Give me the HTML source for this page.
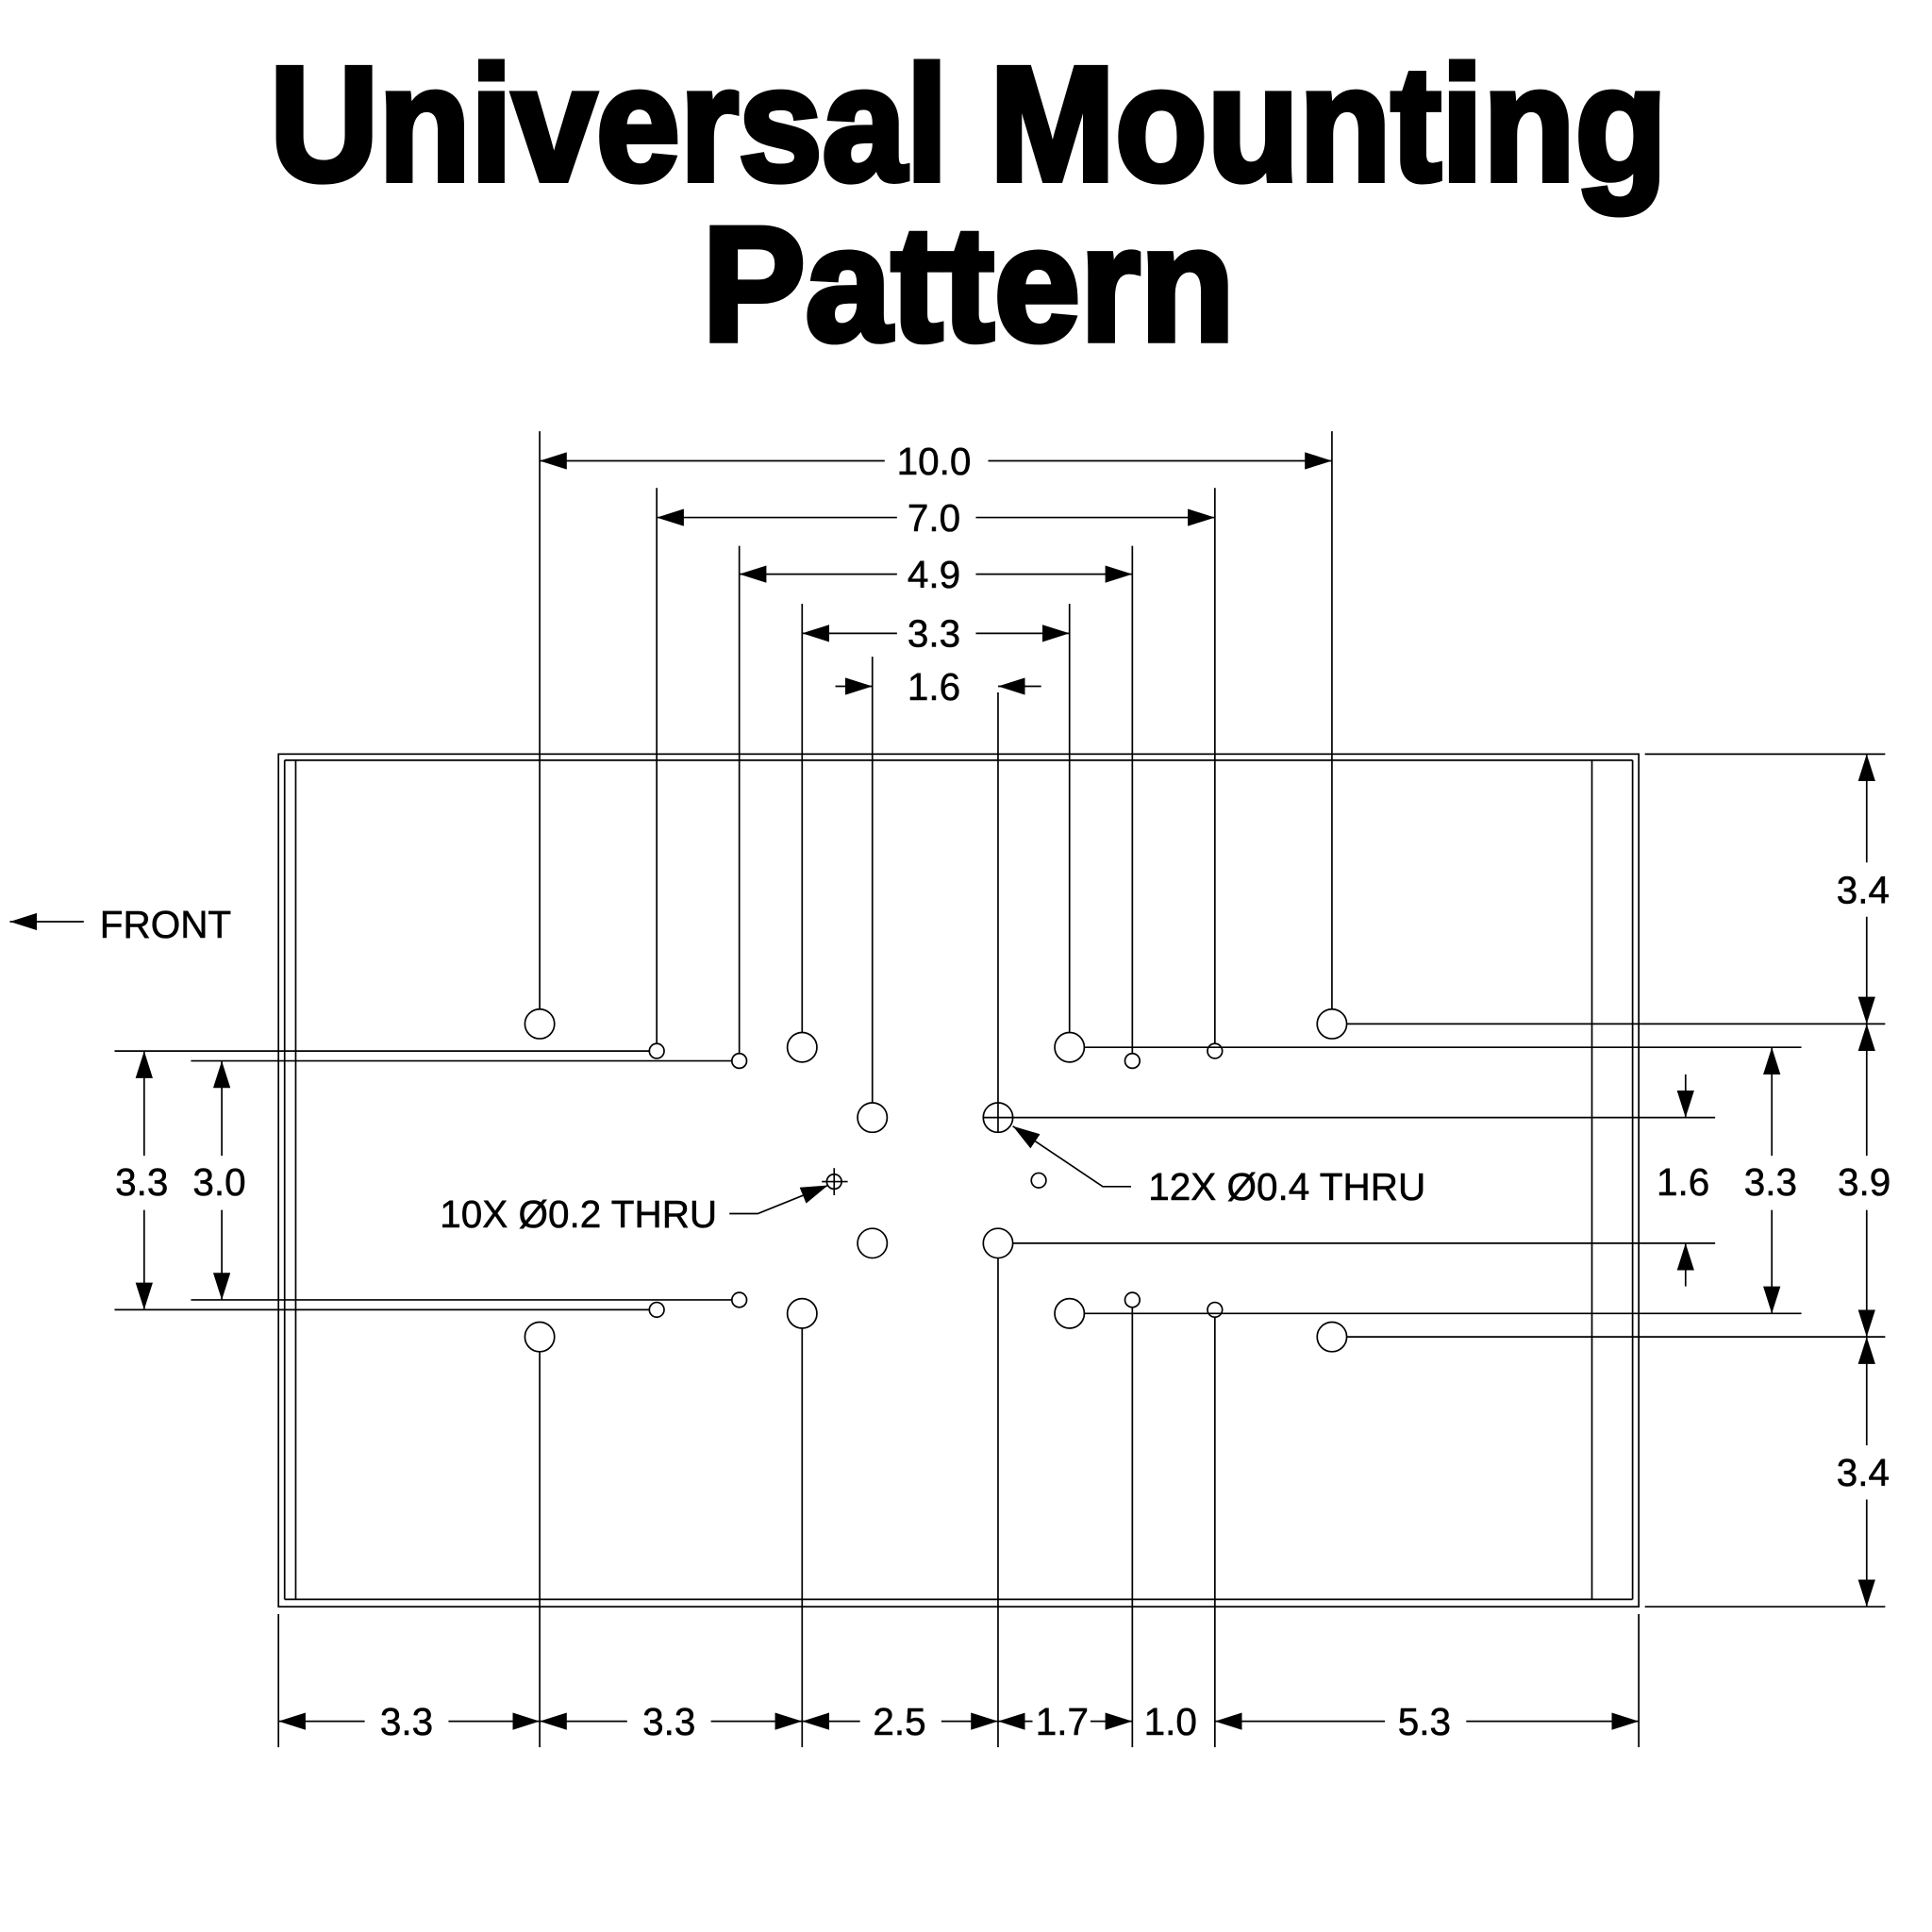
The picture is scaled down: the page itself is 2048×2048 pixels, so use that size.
<!DOCTYPE html>
<html><head><meta charset="utf-8"><style>html,body{margin:0;padding:0;background:#fff}svg{display:block}</style></head>
<body>
<svg width="2048" height="2048" viewBox="0 0 1568 1568" xmlns="http://www.w3.org/2000/svg">
<defs>
<marker id="a" viewBox="0 0 22 14" refX="22" refY="7" markerWidth="22" markerHeight="14" markerUnits="userSpaceOnUse" orient="auto-start-reverse"><path d="M0,0 L22,7 L0,14 Z" fill="#000"/></marker>
</defs>
<rect width="1568" height="1568" fill="#fff"/>
<g font-family="Liberation Sans, Arial, sans-serif" font-weight="bold" fill="#000" stroke="#000" stroke-width="5" text-anchor="middle">
<text x="786" y="146" font-size="132" textLength="1134" lengthAdjust="spacingAndGlyphs">Universal Mounting</text>
<text x="786" y="276" font-size="132" textLength="432" lengthAdjust="spacingAndGlyphs">Pattern</text>
</g>
<g stroke="#000" fill="none" stroke-width="1.3">
<rect x="226" y="612" width="1104" height="692"/>
<line x1="231" y1="617" x2="231" y2="1298"/>
<line x1="240" y1="617" x2="240" y2="1298"/>
<line x1="1292" y1="617" x2="1292" y2="1298"/>
<line x1="1325" y1="617" x2="1325" y2="1298"/>
<line x1="231" y1="617" x2="1325" y2="617"/>
<line x1="231" y1="1298" x2="1325" y2="1298"/>
<circle cx="438" cy="831" r="12"/><circle cx="1081" cy="831" r="12"/>
<circle cx="438" cy="1085" r="12"/><circle cx="1081" cy="1085" r="12"/>
<circle cx="651" cy="850" r="12"/><circle cx="868" cy="850" r="12"/>
<circle cx="651" cy="1066" r="12"/><circle cx="868" cy="1066" r="12"/>
<circle cx="708" cy="907" r="12"/><circle cx="810" cy="907" r="12"/>
<circle cx="708" cy="1009" r="12"/><circle cx="810" cy="1009" r="12"/>
<circle cx="533" cy="853" r="6"/><circle cx="600" cy="861" r="6"/>
<circle cx="919" cy="861" r="6"/><circle cx="986" cy="853" r="6"/>
<circle cx="533" cy="1063" r="6"/><circle cx="600" cy="1055" r="6"/>
<circle cx="919" cy="1055" r="6"/><circle cx="986" cy="1063" r="6"/>
<circle cx="843" cy="958" r="6"/><circle cx="677" cy="959" r="6"/>
<line x1="667" y1="959" x2="688" y2="959"/><line x1="677" y1="948" x2="677" y2="970"/>
<line x1="798" y1="907" x2="822" y2="907"/>
<line x1="438" y1="350" x2="438" y2="819"/>
<line x1="533" y1="396" x2="533" y2="847"/>
<line x1="600" y1="443" x2="600" y2="855"/>
<line x1="651" y1="490" x2="651" y2="838"/>
<line x1="708" y1="533" x2="708" y2="895"/>
<line x1="810" y1="562" x2="810" y2="919"/>
<line x1="868" y1="490" x2="868" y2="838"/>
<line x1="919" y1="443" x2="919" y2="855"/>
<line x1="986" y1="396" x2="986" y2="847"/>
<line x1="1081" y1="350" x2="1081" y2="819"/>
<line x1="438" y1="374" x2="718" y2="374" marker-start="url(#a)"/><line x1="802" y1="374" x2="1081" y2="374" marker-end="url(#a)"/>
<line x1="533" y1="420" x2="728" y2="420" marker-start="url(#a)"/><line x1="792" y1="420" x2="986" y2="420" marker-end="url(#a)"/>
<line x1="600" y1="466" x2="728" y2="466" marker-start="url(#a)"/><line x1="792" y1="466" x2="919" y2="466" marker-end="url(#a)"/>
<line x1="651" y1="514" x2="728" y2="514" marker-start="url(#a)"/><line x1="792" y1="514" x2="868" y2="514" marker-end="url(#a)"/>
<line x1="678" y1="557" x2="708" y2="557" marker-end="url(#a)"/><line x1="845" y1="557" x2="810" y2="557" marker-end="url(#a)"/>
<line x1="226" y1="1310" x2="226" y2="1418"/>
<line x1="438" y1="1097" x2="438" y2="1418"/>
<line x1="651" y1="1078" x2="651" y2="1418"/>
<line x1="810" y1="1021" x2="810" y2="1418"/>
<line x1="919" y1="1061" x2="919" y2="1418"/>
<line x1="986" y1="1069" x2="986" y2="1418"/>
<line x1="1330" y1="1310" x2="1330" y2="1418"/>
<line x1="226" y1="1397" x2="296" y2="1397" marker-start="url(#a)"/><line x1="364" y1="1397" x2="438" y2="1397" marker-end="url(#a)"/>
<line x1="438" y1="1397" x2="509" y2="1397" marker-start="url(#a)"/><line x1="577" y1="1397" x2="651" y2="1397" marker-end="url(#a)"/>
<line x1="651" y1="1397" x2="698" y2="1397" marker-start="url(#a)"/><line x1="764" y1="1397" x2="810" y2="1397" marker-end="url(#a)"/>
<line x1="810" y1="1397" x2="838" y2="1397" marker-start="url(#a)"/><line x1="885" y1="1397" x2="919" y2="1397" marker-end="url(#a)"/>
<line x1="986" y1="1397" x2="1124" y2="1397" marker-start="url(#a)"/><line x1="1190" y1="1397" x2="1330" y2="1397" marker-end="url(#a)"/>
<line x1="93" y1="853" x2="527" y2="853"/>
<line x1="155" y1="861" x2="594" y2="861"/>
<line x1="155" y1="1055" x2="594" y2="1055"/>
<line x1="93" y1="1063" x2="527" y2="1063"/>
<line x1="117" y1="853" x2="117" y2="938" marker-start="url(#a)"/><line x1="117" y1="982" x2="117" y2="1063" marker-end="url(#a)"/>
<line x1="180" y1="861" x2="180" y2="938" marker-start="url(#a)"/><line x1="180" y1="982" x2="180" y2="1055" marker-end="url(#a)"/>
<line x1="1093" y1="831" x2="1530" y2="831"/>
<line x1="1093" y1="1085" x2="1530" y2="1085"/>
<line x1="1335" y1="612" x2="1530" y2="612"/>
<line x1="1335" y1="1304" x2="1530" y2="1304"/>
<line x1="880" y1="850" x2="1462" y2="850"/>
<line x1="880" y1="1066" x2="1462" y2="1066"/>
<line x1="822" y1="907" x2="1392" y2="907"/>
<line x1="822" y1="1009" x2="1392" y2="1009"/>
<line x1="1515" y1="612" x2="1515" y2="700" marker-start="url(#a)"/><line x1="1515" y1="744" x2="1515" y2="831" marker-end="url(#a)"/>
<line x1="1515" y1="831" x2="1515" y2="938" marker-start="url(#a)"/><line x1="1515" y1="982" x2="1515" y2="1085" marker-end="url(#a)"/>
<line x1="1515" y1="1085" x2="1515" y2="1173" marker-start="url(#a)"/><line x1="1515" y1="1217" x2="1515" y2="1304" marker-end="url(#a)"/>
<line x1="1438" y1="850" x2="1438" y2="938" marker-start="url(#a)"/><line x1="1438" y1="982" x2="1438" y2="1066" marker-end="url(#a)"/>
<line x1="1368" y1="872" x2="1368" y2="907" marker-end="url(#a)"/><line x1="1368" y1="1044" x2="1368" y2="1009" marker-end="url(#a)"/>
<line x1="68" y1="748" x2="8" y2="748" marker-end="url(#a)"/>
<polyline points="592,985 615,985 672,962" marker-end="url(#a)"/>
<polyline points="918,963 895,963 822,914" marker-end="url(#a)"/>
</g>
<g font-family="Liberation Sans, Arial, sans-serif" font-size="31" fill="#000" stroke="#000" stroke-width="0.4" text-anchor="middle">
<text x="758" y="385">10.0</text><text x="758" y="431">7.0</text><text x="758" y="477">4.9</text>
<text x="758" y="525">3.3</text><text x="758" y="568">1.6</text>
<text x="330" y="1408">3.3</text><text x="543" y="1408">3.3</text><text x="730" y="1408">2.5</text>
<text x="862" y="1408">1.7</text><text x="950" y="1408">1.0</text><text x="1156" y="1408">5.3</text>
<text x="115" y="970">3.3</text><text x="178" y="970">3.0</text>
<text x="1512" y="733">3.4</text><text x="1513" y="970">3.9</text><text x="1512" y="1206">3.4</text>
<text x="1437" y="970">3.3</text><text x="1366" y="970">1.6</text>
<text x="81" y="761" text-anchor="start">FRONT</text>
<text x="582" y="996" text-anchor="end">10X Ø0.2 THRU</text>
<text x="932" y="974" text-anchor="start">12X Ø0.4 THRU</text>
</g>
</svg>
</body></html>
